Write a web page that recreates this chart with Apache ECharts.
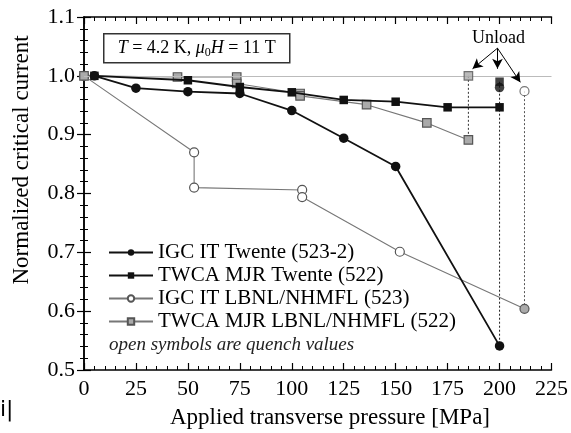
<!DOCTYPE html>
<html><head><meta charset="utf-8">
<script src="https://cdn.jsdelivr.net/npm/echarts@6/dist/echarts.min.js"></script>
<style>html,body{margin:0;padding:0;background:#fff}#c{width:571px;height:433px}</style>
</head><body><div id="c"></div>
<script>
// ---- data ----
const xTicks = [0, 25, 50, 75, 100, 125, 150, 175, 200, 225];
const yTicks = [0.5, 0.6, 0.7, 0.8, 0.9, 1.0, 1.1];
const seriesNames = ['IGC IT Twente (523-2)', 'TWCA MJR Twente (522)', 'IGC IT LBNL/NHMFL (523)', 'TWCA MJR LBNL/NHMFL (522)'];
const igcTwente = [[5,1.0],[25,0.979],[50,0.973],[75,0.970],[100,0.941],[125,0.894],[150,0.846],[200,0.541]];
const twcaTwente = [[5,1.0],[50,0.9925],[75,0.981],[100,0.972],[125,0.959],[150,0.956],[175,0.9465],[200,0.9465]];
const igcLbnl = [[0,1.0],[53,0.870],[53,0.810],[105,0.806],[105,0.794],[152,0.701],[212,0.604]];
const twcaLbnl = [[0,1.0],[45,0.998],[73.5,0.998],[73.5,0.987],[104,0.970],[104,0.966],[136,0.951],[165,0.920],[185,0.891]];
// unload values (after removing load)
const unloadIgcTwente = [[200,0.980]];
const unloadTwcaTwente = [[200,0.990]];
const unloadIgcLbnl = [[212,0.974]];
const unloadTwcaLbnl = [[185,1.0]];
// annotation arrows: from label to unload points
const arrowFrom = [199, 1.047];
const arrowTo = [[187,1.012],[199,1.012],[210,0.989]];
const unloadLabelPos = [199.5, 1.064];

const serif = '"Liberation Serif","DejaVu Serif",serif';
const chart = echarts.init(document.getElementById('c'));

const black = '#111';
const gray = '#777';
const grayFill = '#aaa';

function vline(a, b, color) {
  return {type:'line', data:[a, b], showSymbol:false, symbol:'none', silent:true, z:1,
    lineStyle:{color:color, width:1, type:[2,2]}, legendHoverLink:false, tooltip:{show:false}};
}

const igcLbnlData = igcLbnl.map((p, i) => i === igcLbnl.length - 1 ?
  {value:p, itemStyle:{color:grayFill, borderColor:'#555'}} : p);

const axisCommon = {min:0, max:225, interval:25};

chart.setOption({
  animation:false,
  grid:{left:84, right:15, top:17, bottom:63},
  xAxis:[{type:'value', ...axisCommon, position:'bottom',
      axisLine:{lineStyle:{color:'#000', width:1.5}},
      axisTick:{inside:true, length:7, lineStyle:{color:'#000', width:1.2}},
      minorTick:{show:true, splitNumber:5, length:4, lineStyle:{color:'#000', width:1}},
      splitLine:{show:false},
      axisLabel:{color:'#000', fontFamily:serif, fontSize:22, margin:8,
        formatter:v => xTicks.includes(v) ? String(v) : ''}},
    {type:'value', ...axisCommon, position:'top',
      axisLine:{lineStyle:{color:'#000', width:1.5}},
      axisTick:{inside:true, length:7, lineStyle:{color:'#000', width:1.2}},
      minorTick:{show:true, splitNumber:5, length:4, lineStyle:{color:'#000', width:1}},
      splitLine:{show:false}, axisLabel:{show:false}}],
  yAxis:[{type:'value', min:0.5, max:1.1, interval:0.1, position:'left',
      axisLine:{show:true, lineStyle:{color:'#000', width:1.5}},
      axisTick:{show:true, inside:true, length:7, lineStyle:{color:'#000', width:1.2}},
      minorTick:{show:true, splitNumber:5, length:4, lineStyle:{color:'#000', width:1}},
      splitLine:{show:false},
      axisLabel:{color:'#000', fontFamily:serif, fontSize:22, margin:9,
        formatter:v => v.toFixed(1)}},
    {type:'value', min:0.5, max:1.1, interval:0.1, position:'right',
      axisLine:{show:true, lineStyle:{color:'#000', width:1.5}},
      axisTick:{show:true, inside:true, length:7, lineStyle:{color:'#000', width:1.2}},
      minorTick:{show:true, splitNumber:5, length:4, lineStyle:{color:'#000', width:1}},
      splitLine:{show:false}, axisLabel:{show:false}}],
  legend:{
    orient:'vertical', left:103, top:237, itemGap:2, itemWidth:44, itemHeight:8,
    data:seriesNames,
    textStyle:{fontFamily:serif, fontSize:21, color:'#000'}
  },
  series:[
    {type:'line', data:[], silent:true,
      markLine:{silent:true, symbol:'none', label:{show:false},
        lineStyle:{color:'#bbb', width:1.2, type:'solid'},
        data:[{yAxis:1.0}]}},
    {type:'line', data:[], silent:true,
      markLine:{silent:true, symbol:['none','arrow'], symbolSize:[8,10], label:{show:false},
        lineStyle:{color:'#000', width:1, type:'solid'},
        data:arrowTo.map(t => [{coord:arrowFrom}, {coord:t}])},
      markPoint:{silent:true, symbol:'circle', symbolSize:0,
        data:[{coord:unloadLabelPos, label:{show:true, position:'inside', formatter:'Unload',
          fontFamily:serif, fontSize:18, color:'#000'}}]}},
    vline(unloadTwcaLbnl[0], twcaLbnl[twcaLbnl.length-1], '#333'),
    vline(unloadTwcaTwente[0], igcTwente[igcTwente.length-1], '#222'),
    vline(unloadIgcLbnl[0], igcLbnl[igcLbnl.length-1], '#555'),
    {name:seriesNames[2], type:'line', data:igcLbnlData, z:3,
      symbol:'circle', symbolSize:9, showAllSymbol:true,
      lineStyle:{color:gray, width:1.1},
      itemStyle:{color:'#fff', borderColor:'#555', borderWidth:1.2}},
    {name:seriesNames[3], type:'line', data:twcaLbnl, z:4,
      symbol:'rect', symbolSize:8.5, showAllSymbol:true,
      lineStyle:{color:gray, width:1.1},
      itemStyle:{color:grayFill, borderColor:'#555', borderWidth:1.2}},
    {name:seriesNames[1], type:'line', data:twcaTwente, z:5,
      symbol:'rect', symbolSize:8.5, showAllSymbol:true,
      lineStyle:{color:black, width:1.8},
      itemStyle:{color:black, borderColor:black, borderWidth:0}},
    {name:seriesNames[0], type:'line', data:igcTwente, z:6,
      symbol:'circle', symbolSize:9.5, showAllSymbol:true,
      lineStyle:{color:black, width:1.8},
      itemStyle:{color:black, borderColor:black, borderWidth:0}},
    {type:'scatter', data:unloadTwcaLbnl, z:7, symbol:'rect', symbolSize:8.5,
      itemStyle:{color:grayFill, borderColor:'#555', borderWidth:1.2}},
    {type:'scatter', data:unloadIgcTwente, z:7, symbol:'circle', symbolSize:9.5,
      itemStyle:{color:black}},
    {type:'scatter', data:unloadTwcaTwente, z:8, symbol:'rect', symbolSize:8.5,
      itemStyle:{color:black}},
    {type:'scatter', data:unloadIgcLbnl, z:7, symbol:'circle', symbolSize:9,
      itemStyle:{color:'#fff', borderColor:'#555', borderWidth:1.2}}
  ],
  graphic:[
    {type:'group', left:103, top:33, children:[
      {type:'rect', shape:{x:0, y:0, width:186, height:29},
        style:{fill:'#fff', stroke:'#333', lineWidth:1.5}},
      {type:'text', x:93, y:15, style:{
        text:'{i|T} = 4.2 K, {i|μ}{s|0}{i|H} = 11 T',
        align:'center', verticalAlign:'middle',
        font:'18px ' + serif, fill:'#000',
        rich:{i:{fontStyle:'italic', fontFamily:serif, fontSize:18},
              s:{fontFamily:serif, fontSize:12, padding:[9,0,0,0]}}}}
    ]},
    {type:'text', left:109, top:335, style:{text:'open symbols are quench values',
      font:'italic 19px ' + serif, fill:'#222'}},
    {type:'text', x:22, y:160, rotation:Math.PI/2, style:{text:'Normalized critical current',
      font:'23px ' + serif, fill:'#000', align:'center', verticalAlign:'middle'}},
    {type:'text', x:330, y:418, style:{text:'Applied transverse pressure [MPa]',
      font:'23px ' + serif, fill:'#000', align:'center', verticalAlign:'middle'}},
    {type:'text', left:0, top:399, style:{text:'i|', font:'22px "DejaVu Sans",sans-serif', fill:'#000'}}
  ]
});
</script></body></html>
